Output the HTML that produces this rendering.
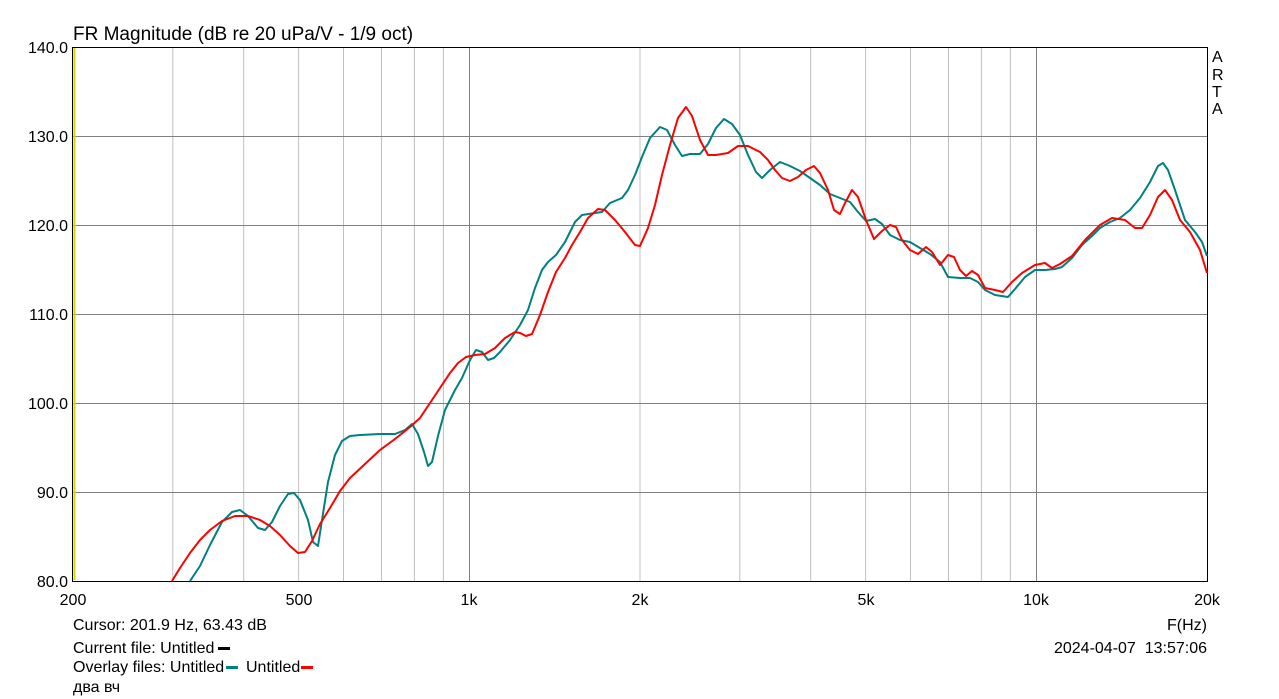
<!DOCTYPE html>
<html><head><meta charset="utf-8"><style>
body{margin:0;background:#fff;}
svg{display:block;font-family:"Liberation Sans",Arial,sans-serif;}
text{white-space:pre;}
</style></head><body>
<svg width="1279" height="699" viewBox="0 0 1279 699">
<rect width="1279" height="699" fill="#fff"/>
<g stroke="#c0c0c0" stroke-width="1">
<line x1="172.8" y1="47" x2="172.8" y2="581"/><line x1="243.7" y1="47" x2="243.7" y2="581"/>
<line x1="298.6" y1="47" x2="298.6" y2="581"/><line x1="343.5" y1="47" x2="343.5" y2="581"/>
<line x1="381.5" y1="47" x2="381.5" y2="581"/><line x1="414.4" y1="47" x2="414.4" y2="581"/>
<line x1="443.4" y1="47" x2="443.4" y2="581"/>
<line x1="640" y1="47" x2="640" y2="581"/><line x1="739.8" y1="47" x2="739.8" y2="581"/>
<line x1="810.7" y1="47" x2="810.7" y2="581"/><line x1="865.6" y1="47" x2="865.6" y2="581"/>
<line x1="910.5" y1="47" x2="910.5" y2="581"/><line x1="948.5" y1="47" x2="948.5" y2="581"/>
<line x1="981.4" y1="47" x2="981.4" y2="581"/><line x1="1010.4" y1="47" x2="1010.4" y2="581"/>
</g>
<g stroke="#808080" stroke-width="1">
<line x1="469.5" y1="47" x2="469.5" y2="581"/><line x1="1036.5" y1="47" x2="1036.5" y2="581"/>
<line x1="73" y1="136.5" x2="1207" y2="136.5"/><line x1="73" y1="225.5" x2="1207" y2="225.5"/>
<line x1="73" y1="314.5" x2="1207" y2="314.5"/><line x1="73" y1="403.5" x2="1207" y2="403.5"/>
<line x1="73" y1="492.5" x2="1207" y2="492.5"/>
</g>
<line x1="74.5" y1="48" x2="74.5" y2="580" stroke="#d8d800" stroke-width="2"/>
<rect x="72.5" y="47.5" width="1135" height="534" fill="none" stroke="#000" stroke-width="1"/>
<polyline fill="none" stroke="#008080" stroke-width="2" stroke-linejoin="round" points="190,581 200,566 210,545 222,522 232,512 240,510 248,516 258,528 265,530 272,522 280,506 288,494 294,493 300,500 308,520 313,542 318,546 322,520 328,482 335,455 342,441 350,436 360,435 380,434 395,434 405,430 412,424 418,434 424,452 428,466 432,462 438,436 445,410 455,390 462,378 470,360 476,350 482,352 488,360 494,358 500,352 510,340 520,325 528,310 535,288 542,270 548,262 556,255 565,242 575,222 582,215 595,213 602,212 610,203 622,198 628,190 635,175 642,157 650,138 660,127 667,130 675,145 682,156 690,154 700,154 708,144 716,128 724,119 732,124 740,135 748,155 756,172 762,178 770,170 780,162 790,166 800,171 810,178 820,185 830,194 840,198 850,202 858,212 866,221 875,219 882,224 890,235 900,240 910,242 920,248 930,254 940,262 948,277 960,278 970,278 978,282 985,290 995,295 1008,297 1015,289 1025,277 1035,270 1045,270 1055,269 1062,267 1072,258 1082,245 1092,236 1100,228 1110,222 1120,218 1130,210 1140,198 1150,182 1158,166 1163,163 1168,170 1175,190 1185,220 1195,232 1202,242 1207,256"/>
<polyline fill="none" stroke="#ff0000" stroke-width="2" stroke-linejoin="round" points="172,581 180,568 190,553 200,540 210,530 222,521 235,516 248,516 260,520 270,526 280,535 290,546 298,553 305,552 312,541 320,524 330,508 340,491 350,478 365,464 380,450 395,439 410,427 420,418 430,403 440,388 450,373 458,363 466,357 475,355 485,354 495,348 505,338 515,332 520,333 526,336 532,334 540,315 548,292 556,272 565,258 572,245 580,232 588,218 598,209 605,210 615,220 625,232 635,245 640,246 648,228 655,205 662,175 670,145 678,118 686,107 692,116 700,140 708,155 716,155 728,153 738,146 748,146 760,152 768,160 775,170 782,178 790,181 798,177 806,170 814,166 820,173 828,190 834,210 840,214 845,203 852,190 858,197 866,220 874,239 882,231 890,225 896,227 902,240 910,250 918,254 926,247 932,252 940,265 948,255 954,257 960,270 966,276 972,271 978,275 985,288 995,290 1003,292 1012,282 1022,273 1035,265 1045,263 1052,268 1060,264 1072,256 1085,240 1100,225 1112,218 1125,220 1135,228 1142,228 1150,215 1158,197 1165,190 1172,200 1180,220 1190,232 1200,250 1207,273"/>
<g font-size="16" fill="#000">
<text x="73" y="40" font-size="19">FR Magnitude (dB re 20 uPa/V - 1/9 oct)</text>
<g text-anchor="end">
<text x="68" y="53">140.0</text><text x="68" y="142">130.0</text><text x="68" y="231">120.0</text>
<text x="68" y="320">110.0</text><text x="68" y="409">100.0</text><text x="68" y="498">90.0</text><text x="68" y="587">80.0</text>
</g>
<g text-anchor="middle">
<text x="73" y="605">200</text><text x="299" y="605">500</text><text x="469" y="605">1k</text>
<text x="640" y="605">2k</text><text x="866" y="605">5k</text><text x="1036" y="605">10k</text><text x="1207" y="605">20k</text>
</g>
<text x="1212" y="62">A</text><text x="1212" y="80">R</text><text x="1212" y="97">T</text><text x="1212" y="114">A</text>
<text x="73" y="630">Cursor: 201.9 Hz, 63.43 dB</text>
<text x="73" y="653">Current file: Untitled</text>
<text x="73" y="672">Overlay files: Untitled</text>
<text x="246" y="672">Untitled</text>
<text x="73" y="692">два вч</text>
<text x="1207" y="630" text-anchor="end">F(Hz)</text>
<text x="1207" y="653" text-anchor="end">2024-04-07  13:57:06</text>
</g>
<rect x="218" y="647" width="12" height="3" fill="#000"/>
<rect x="226" y="666" width="12" height="3" fill="#008080"/>
<rect x="301" y="666" width="12" height="3" fill="#ff0000"/>
</svg>
</body></html>
